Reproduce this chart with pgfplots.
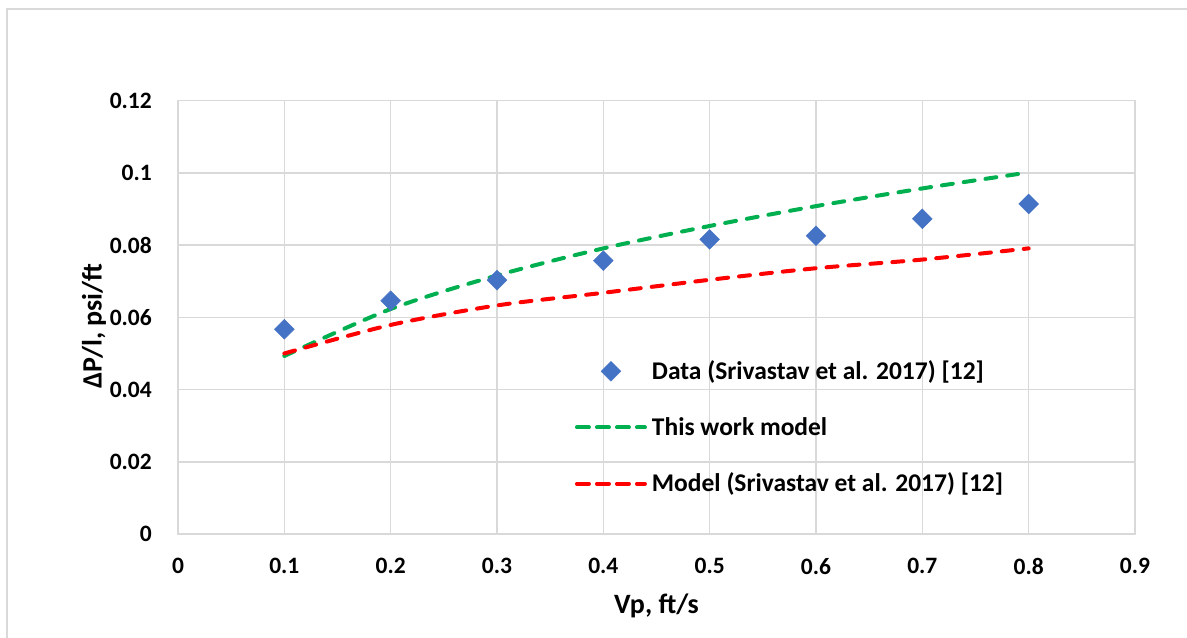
\documentclass[border=0pt]{standalone}
\usepackage{pgfplots}
\pgfplotsset{compat=1.18}
\usepackage{fontspec}
\setmainfont{Carlito}
\definecolor{gridc}{HTML}{D9D9D9}
\definecolor{frame}{HTML}{D9D9D9}
\definecolor{mblue}{HTML}{4472C4}
\definecolor{mgreen}{HTML}{00B050}
\definecolor{mred}{HTML}{FF0000}
\pgfplotsset{
  legmark/.style={legend image code/.code={\draw[##1, /tikz/only marks] plot coordinates {(34bp,0)}; \path (-2bp,0) (73bp,0);}},
  legline/.style={legend image code/.code={\draw[##1, dash pattern=on 12bp off 8bp] (0bp,0) -- (68bp,0); \path (-2bp,0) (73bp,0);}},
}
\begin{document}
\begin{tikzpicture}
\path[use as bounding box, fill=white] (0,0) rectangle (1187bp,638bp);
\draw[frame, line width=1.5bp] (7bp,0) -- (7bp,629bp) -- (1187bp,629bp);
\begin{axis}[
  at={(178bp,104bp)}, anchor=south west, scale only axis,
  width=957bp, height=433.3bp,
  xmin=0, xmax=0.9, ymin=0, ymax=0.12,
  xtick={0,0.1,0.2,0.3,0.4,0.5,0.6,0.7,0.8,0.9},
  xticklabels={0,0.1,0.2,0.3,0.4,0.5,0.6,0.7,0.8,0.9},
  ytick={0,0.02,0.04,0.06,0.08,0.1,0.12},
  yticklabels={0,0.02,0.04,0.06,0.08,0.1,0.12},
  grid=major, major grid style={gridc, line width=1.5bp},
  axis line style={gridc, line width=1.5bp},
  major tick length=0pt,
  tick label style={font=\bfseries\fontsize{23.5bp}{28bp}\selectfont, inner sep=0pt},
  yticklabel style={anchor=east, xshift=-26bp},
  xticklabel style={anchor=north, yshift=-24bp},
  xlabel={Vp, ft/s},
  ylabel={ΔP/l, psi/ft},
  label style={font=\bfseries\fontsize{28bp}{32bp}\selectfont, inner sep=0pt},
  xlabel style={at={(axis description cs:0.5,-0.1846)}, anchor=base},
  ylabel style={at={(axis description cs:-0.0799,0.480)}, anchor=base},
  legend cell align=left,
  legend style={draw=none, fill=none, at={(rel axis cs:0.4127,0.4032)}, anchor=north west,
    inner sep=0pt, outer sep=0pt, row sep=32.2bp,
    font=\bfseries\fontsize{25.5bp}{30bp}\selectfont,
    nodes={inner sep=0pt, text height=20bp, text depth=4bp}},
]
\addplot[only marks, mark=square*, mark size=7bp, mark options={rotate=45, fill=mblue, draw=mblue}, legmark]
  coordinates {(0.1,0.0567) (0.2,0.0646) (0.3,0.0703) (0.4,0.0757) (0.5,0.0816) (0.6,0.0826) (0.7,0.0873) (0.8,0.0914)};
\addlegendentry{Data (Srivastav et al. 2017) [12]}
\addplot[mgreen, line width=4bp, line cap=round, dash pattern=on 11bp off 11bp, smooth, legline]
  coordinates {(0.1,0.0493) (0.2,0.0623) (0.3,0.0716) (0.4,0.0791) (0.5,0.0853) (0.6,0.0908) (0.7,0.0957) (0.79,0.0997)};
\addlegendentry{This work model}
\addplot[mred, line width=4bp, line cap=round, dash pattern=on 11bp off 11bp, smooth, legline]
  coordinates {(0.1,0.0500) (0.2,0.0579) (0.3,0.0633) (0.4,0.0668) (0.5,0.0704) (0.6,0.0736) (0.7,0.0760) (0.8,0.0791)};
\addlegendentry{Model (Srivastav et al. 2017) [12]}
\end{axis}
\end{tikzpicture}
\end{document}
